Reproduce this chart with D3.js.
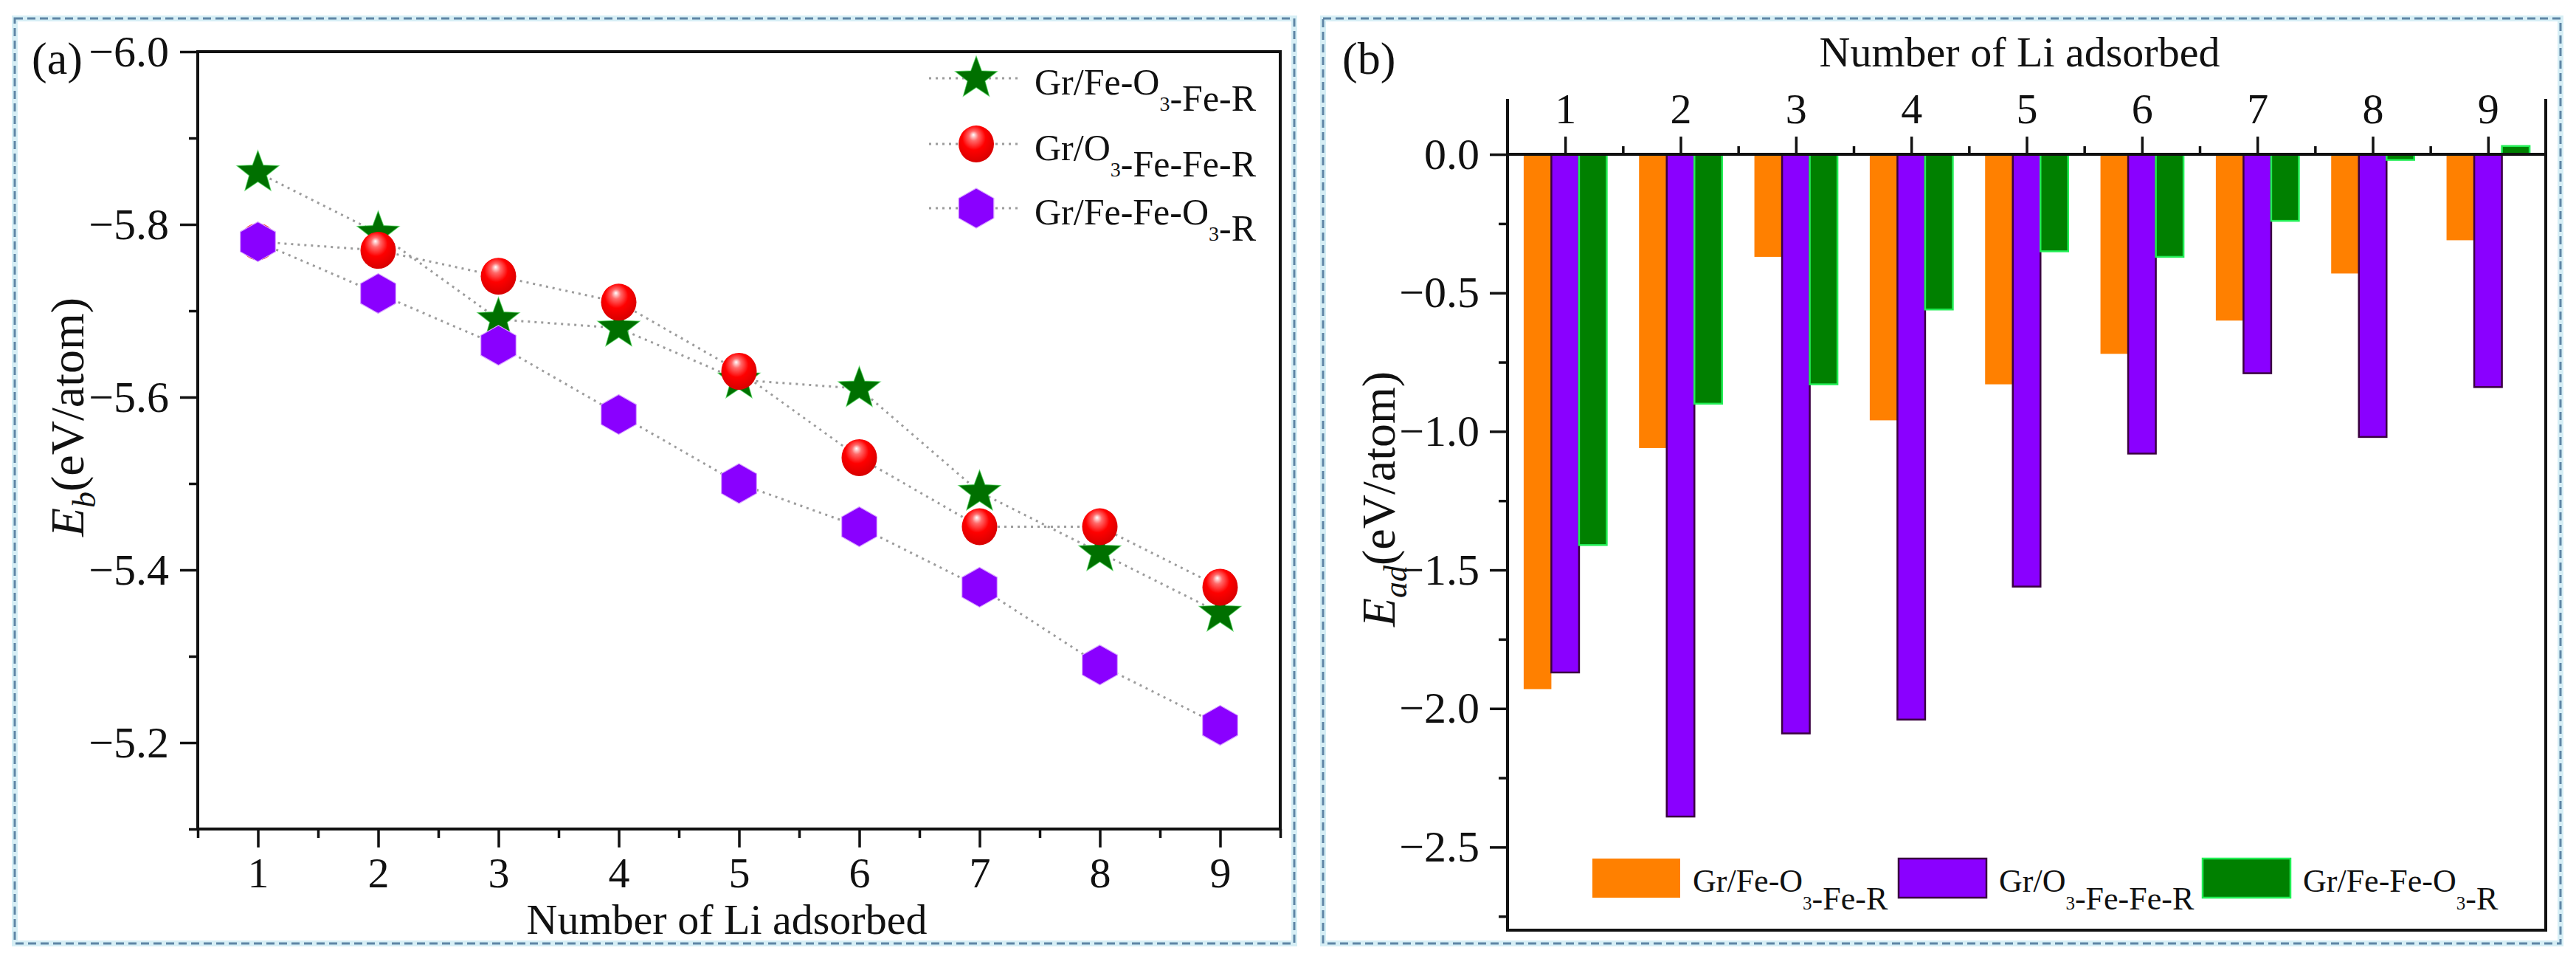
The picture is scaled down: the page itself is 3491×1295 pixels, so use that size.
<!DOCTYPE html>
<html><head><meta charset="utf-8">
<script src="https://cdn.jsdelivr.net/npm/d3@7"></script>
<style>
html,body{margin:0;padding:0;background:#fff;}
text{font-family:"Liberation Serif","Times New Roman",serif;fill:#111;}
</style></head>
<body><svg id="c" width="3491" height="1295"></svg>
<script>
// ---------- data ----------
const liCounts = [1,2,3,4,5,6,7,8,9];
const seriesNames = ["Gr/Fe-O3-Fe-R","Gr/O3-Fe-Fe-R","Gr/Fe-Fe-O3-R"];
// panel (a) binding energy Eb (eV/atom)
const ebFeO3Fe = [-5.86,-5.79,-5.69,-5.68,-5.62,-5.61,-5.49,-5.42,-5.35];
const ebO3FeFe = [-5.78,-5.77,-5.74,-5.71,-5.63,-5.53,-5.45,-5.45,-5.38];
const ebFeFeO3 = [-5.78,-5.72,-5.66,-5.58,-5.50,-5.45,-5.38,-5.29,-5.22];
// panel (b) adsorption energy Ead (eV/atom)
const eadFeO3Fe = [-1.93,-1.06,-0.37,-0.96,-0.83,-0.72,-0.60,-0.43,-0.31];
const eadO3FeFe = [-1.87,-2.39,-2.09,-2.04,-1.56,-1.08,-0.79,-1.02,-0.84];
const eadFeFeO3 = [-1.41,-0.90,-0.83,-0.56,-0.35,-0.37,-0.24,-0.02,0.03];
// ticks
const ebMajorTicks = [-6.0,-5.8,-5.6,-5.4,-5.2];
const ebMinorTicks = [-5.9,-5.7,-5.5,-5.3,-5.1];
const eadMajorTicks = [0,-0.5,-1.0,-1.5,-2.0,-2.5];
const eadMinorTicks = [-0.25,-0.75,-1.25,-1.75,-2.25,-2.75];
const xMinorTicks = [0.5,1.5,2.5,3.5,4.5,5.5,6.5,7.5,8.5,9.5];

const svg = d3.select("#c");
const FONT = "Liberation Serif";

// helper: text with digit subscripts
function richText(sel, name, size, subSize, subShift){
  const parts = name.split(/(\d)/);
  parts.forEach(p=>{
    if(p==="") return;
    if(/^\d$/.test(p)){
      sel.append("tspan").attr("font-size",subSize).attr("dy",subShift).text(p);
      sel.append("tspan").attr("font-size",size).attr("dy",-subShift).text("");
    } else {
      sel.append("tspan").attr("font-size",size).text(p);
    }
  });
}

// panel borders
function border(x0,y0,x1,y1){
  svg.append("rect").attr("x",x0).attr("y",y0).attr("width",x1-x0).attr("height",y1-y0)
    .attr("fill","none").attr("stroke","#d6eef5").attr("stroke-width",8);
  svg.append("rect").attr("x",x0).attr("y",y0).attr("width",x1-x0).attr("height",y1-y0)
    .attr("fill","none").attr("stroke","#5f86a6").attr("stroke-width",3).attr("stroke-dasharray","11,6");
}
border(20,25,1754,1278);
border(1793,25,3470,1278);

function styleAxis(g, fs){
  g.selectAll("path.domain").remove();
  g.selectAll("line").attr("stroke","#111").attr("stroke-width",3.5);
  g.selectAll("text").attr("font-family",FONT).attr("font-size",fs).attr("fill","#111");
}

// =============== Panel (a) ===============
const ax = d3.scaleLinear().domain([0.5,9.5]).range([268,1735]);
const ay = d3.scaleLinear().domain([-6.0,-5.1]).range([70,1123]);

// frame
svg.append("rect").attr("x",ax(0.5)).attr("y",ay(-6.0)).attr("width",ax(9.5)-ax(0.5))
  .attr("height",ay(-5.1)-ay(-6.0)).attr("fill","none").attr("stroke","#111").attr("stroke-width",4);

svg.append("g").attr("transform",`translate(0,${ay(-5.1)})`)
  .call(d3.axisBottom(ax).tickValues(liCounts).tickSize(25).tickPadding(13).tickFormat(d3.format("d")))
  .call(g=>styleAxis(g,58));
svg.append("g").attr("transform",`translate(0,${ay(-5.1)})`)
  .call(d3.axisBottom(ax).tickValues(xMinorTicks).tickSize(12).tickFormat(""))
  .call(g=>styleAxis(g,58));
svg.append("g").attr("transform",`translate(${ax(0.5)},0)`)
  .call(d3.axisLeft(ay).tickValues(ebMajorTicks).tickSize(24).tickPadding(15).tickFormat(d3.format(".1f")))
  .call(g=>styleAxis(g,60));
svg.append("g").attr("transform",`translate(${ax(0.5)},0)`)
  .call(d3.axisLeft(ay).tickValues(ebMinorTicks).tickSize(12).tickFormat(""))
  .call(g=>styleAxis(g,60));

svg.append("text").attr("x",985).attr("y",1265).attr("text-anchor","middle")
  .attr("font-size",58).text("Number of Li adsorbed");
svg.append("text").attr("x",43).attr("y",100).attr("font-size",62).text("(a)");

// y title (a)
{
  const t = svg.append("text").attr("transform","translate(113,565) rotate(-90)")
    .attr("text-anchor","middle").attr("font-size",64);
  t.append("tspan").attr("font-style","italic").text("E");
  t.append("tspan").attr("font-style","italic").attr("font-size",44).attr("dy",16).text("b");
  t.append("tspan").attr("dy",-16).text("(eV/atom)");
}

// markers
function starPath(R,r){
  const pts = d3.range(10).map(i=>{
    const a = (-90 + i*36)*Math.PI/180, rr = i%2 ? r : R;
    return [rr*Math.cos(a), rr*Math.sin(a)];
  });
  return "M"+pts.map(p=>p.join(",")).join("L")+"Z";
}
function hexPath(R){
  const pts = d3.range(6).map(i=>{
    const a = (-90 + i*60)*Math.PI/180;
    return [R*Math.cos(a)*1.02, R*Math.sin(a)];
  });
  return "M"+pts.map(p=>p.join(",")).join("L")+"Z";
}
const defs = svg.append("defs");
const rg = defs.append("radialGradient").attr("id","ball").attr("cx","45%").attr("cy","40%").attr("r","60%")
  .attr("fx","42%").attr("fy","25%");
rg.append("stop").attr("offset","0%").attr("stop-color","#ffffff");
rg.append("stop").attr("offset","22%").attr("stop-color","#ff6a6a");
rg.append("stop").attr("offset","55%").attr("stop-color","#ff0000");
rg.append("stop").attr("offset","100%").attr("stop-color","#d80000");

const seriesA = [
  {name:seriesNames[0], vals:ebFeO3Fe, kind:"star"},
  {name:seriesNames[1], vals:ebO3FeFe, kind:"ball"},
  {name:seriesNames[2], vals:ebFeFeO3, kind:"hex"}
];
function drawMarker(g, kind, x, y){
  if(kind==="star"){
    g.append("path").attr("d",starPath(30,12.5)).attr("transform",`translate(${x},${y})`)
      .attr("fill","#007000").attr("stroke","#3bd04a").attr("stroke-width",1.2).attr("stroke-opacity",0.6);
  } else if(kind==="ball"){
    g.append("ellipse").attr("cx",x).attr("cy",y).attr("rx",24).attr("ry",25).attr("fill","url(#ball)");
  } else {
    g.append("path").attr("d",hexPath(27)).attr("transform",`translate(${x},${y})`)
      .attr("fill","#8a00ff").attr("stroke","#d9a6ff").attr("stroke-width",1.2);
  }
}
const line = d3.line().x((d,i)=>ax(liCounts[i])).y(d=>ay(d));
const gl = svg.append("g");
seriesA.forEach(s=>{
  gl.append("path").attr("d",line(s.vals)).attr("fill","none").attr("stroke","#9c9c9c")
    .attr("stroke-width",3).attr("stroke-dasharray","3,6");
});
const gm = svg.append("g");
seriesA.forEach(s=>{
  s.vals.forEach((v,i)=>drawMarker(gm, s.kind, ax(liCounts[i]), ay(v)));
});
// legend (a)
const legRowsA = [106,195,282];
seriesA.forEach((s,i)=>{
  const y = legRowsA[i];
  svg.append("line").attr("x1",1259).attr("x2",1385).attr("y1",y).attr("y2",y)
    .attr("stroke","#9c9c9c").attr("stroke-width",3).attr("stroke-dasharray","3,6");
  drawMarker(svg, s.kind, 1323, y);
  const t = svg.append("text").attr("x",1402).attr("y",y+22);
  richText(t, s.name, 50, 28, 22);
});

// =============== Panel (b) ===============
const bx = d3.scaleLinear().domain([0.5,9.5]).range([2043,3450]);
const by = d3.scaleLinear().domain([-2.8,0.2]).range([1260,134]);
const unit = bx(2)-bx(1);
const bw = 0.24*unit;

const seriesB = [
  {name:seriesNames[0], vals:eadFeO3Fe, fill:"#ff8000", stroke:"none", off:-1},
  {name:seriesNames[1], vals:eadO3FeFe, fill:"#8a00ff", stroke:"#3a0040", off:0},
  {name:seriesNames[2], vals:eadFeFeO3, fill:"#008000", stroke:"#22ee55", off:1}
];
const gb = svg.append("g");
seriesB.forEach(s=>{
  gb.selectAll(null).data(s.vals).enter().append("rect")
    .attr("x",(d,i)=>bx(liCounts[i]) + s.off*bw - bw/2)
    .attr("width",bw)
    .attr("y",d=>by(Math.max(0,d)))
    .attr("height",d=>Math.abs(by(d)-by(0)))
    .attr("fill",s.fill).attr("stroke",s.stroke).attr("stroke-width",s.stroke==="none"?0:2.5);
});

// frame (left, right, bottom)
svg.append("path").attr("d",`M${bx(0.5)},${by(0.2)}V${by(-2.8)}H${bx(9.5)}V${by(0.2)}`)
  .attr("fill","none").attr("stroke","#111").attr("stroke-width",4);
// zero axis with ticks upward
svg.append("line").attr("x1",bx(0.5)).attr("x2",bx(9.5)).attr("y1",by(0)).attr("y2",by(0))
  .attr("stroke","#111").attr("stroke-width",4);
svg.append("g").attr("transform",`translate(0,${by(0)})`)
  .call(d3.axisTop(bx).tickValues(liCounts).tickSize(24).tickPadding(18).tickFormat(d3.format("d")))
  .call(g=>styleAxis(g,58));
svg.append("g").attr("transform",`translate(0,${by(0)})`)
  .call(d3.axisTop(bx).tickValues(xMinorTicks.slice(1,-1)).tickSize(11).tickFormat(""))
  .call(g=>styleAxis(g,58));
svg.append("g").attr("transform",`translate(${bx(0.5)},0)`)
  .call(d3.axisLeft(by).tickValues(eadMajorTicks).tickSize(24).tickPadding(14).tickFormat(d3.format(".1f")))
  .call(g=>styleAxis(g,60));
svg.append("g").attr("transform",`translate(${bx(0.5)},0)`)
  .call(d3.axisLeft(by).tickValues(eadMinorTicks).tickSize(12).tickFormat(""))
  .call(g=>styleAxis(g,60));

svg.append("text").attr("x",2737).attr("y",90).attr("text-anchor","middle")
  .attr("font-size",58).text("Number of Li adsorbed");
svg.append("text").attr("x",1819).attr("y",100).attr("font-size",62).text("(b)");
{
  const t = svg.append("text").attr("transform","translate(1890,676) rotate(-90)")
    .attr("text-anchor","middle").attr("font-size",64);
  t.append("tspan").attr("font-style","italic").text("E");
  t.append("tspan").attr("font-style","italic").attr("font-size",44).attr("dy",16).text("ad");
  t.append("tspan").attr("dy",-16).text("(eV/atom)");
}
// legend (b)
const legSwX = [2158,2573,2985];
seriesB.forEach((s,i)=>{
  svg.append("rect").attr("x",legSwX[i]).attr("y",1163).attr("width",119).attr("height",53)
    .attr("fill",s.fill).attr("stroke",s.stroke).attr("stroke-width",s.stroke==="none"?0:2.5);
  const t = svg.append("text").attr("x",legSwX[i]+136).attr("y",1208);
  richText(t, s.name, 44, 25, 24);
});
</script></body></html>
